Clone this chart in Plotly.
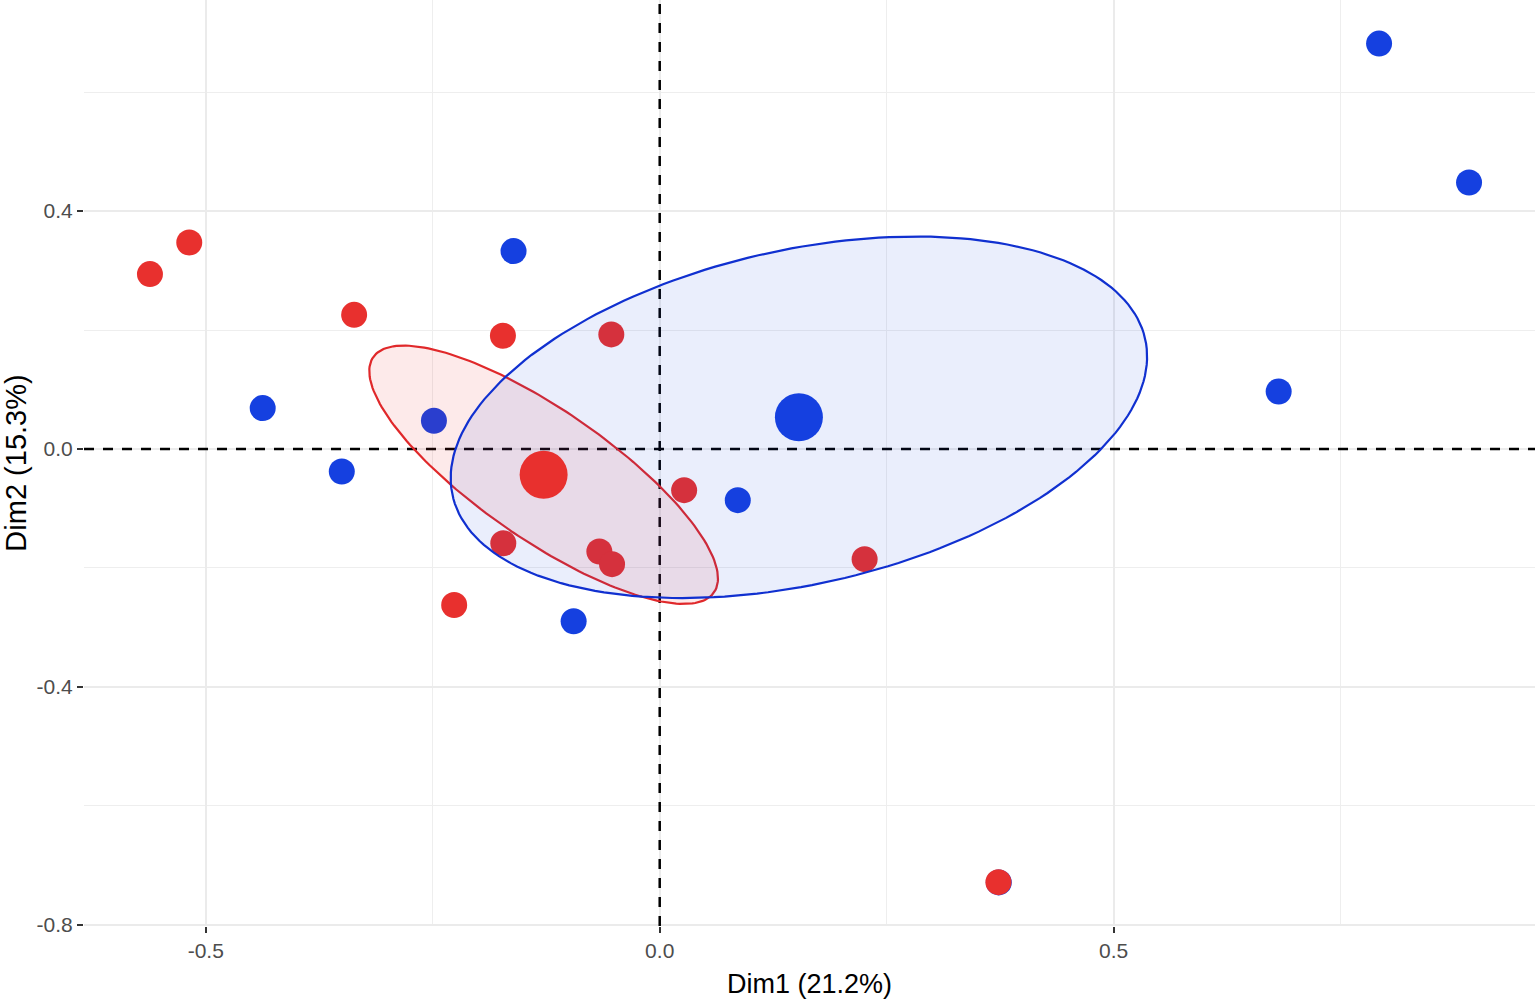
import numpy as np
import plotly.graph_objects as go

# individuos (Dim1, Dim2), por grupo
red_x = [-0.5615, -0.5182, -0.3366, -0.1727, -0.0533, 0.0269, -0.1723, -0.0665, -0.0525, 0.2257, -0.2264, 0.3731]
red_y = [0.2941, 0.3472, 0.2255, 0.1903, 0.1926, -0.0693, -0.1586, -0.1725, -0.1938, -0.1854, -0.2625, -0.7286]
blue_x = [0.7924, 0.8915, 0.6818, -0.1610, -0.4373, -0.2487, -0.3502, 0.0860, -0.0948, 0.3735]
blue_y = [0.6817, 0.4482, 0.0965, 0.3327, 0.0687, 0.0474, -0.0380, -0.0861, -0.2898, -0.7290]

x_ticks = [-0.5, 0.0, 0.5]
x_labels = ["-0.5", "0.0", "0.5"]
y_ticks = [-0.8, -0.4, 0.0, 0.4]
y_labels = ["-0.8", "-0.4", "0.0", "0.4"]

x_title = "Dim1 (21.2%)"
y_title = "Dim2 (15.3%)"

RED = "#E8302E"
BLUE = "#1540E0"
FONT = "Liberation Sans, Arial, sans-serif"


def conf_ellipse(x, y, level=0.95, npoint=200):
    ## elipse de confianza alrededor del baricentro (cov / n)
    x = np.asarray(x)
    y = np.asarray(y)
    cov = np.cov(x, y) / len(x)
    sx, sy = np.sqrt(np.diag(cov))
    r = cov[0, 1] / (sx * sy)
    d = np.arccos(r)
    t = np.sqrt(-2 * np.log(1 - level))  # qchisq(level, 2)
    a = np.linspace(0, 2 * np.pi, npoint)
    ex = x.mean() + t * sx * np.cos(a + d / 2)
    ey = y.mean() + t * sy * np.cos(a - d / 2)
    return ex, ey


def expand(vals, mult=0.05):
    lo, hi = min(vals), max(vals)
    pad = (hi - lo) * mult
    return [lo - pad, hi + pad]


x_range = expand(red_x + blue_x)
y_range = expand(red_y + blue_y, 0.052)

fig = go.Figure()

## lineas de referencia en 0
dash_line = dict(color="black", width=2.5, dash="10px,9px")
fig.add_trace(go.Scatter(x=x_range, y=[0, 0], mode="lines", line=dash_line, hoverinfo="skip"))
fig.add_trace(go.Scatter(x=[0, 0], y=y_range, mode="lines", line=dash_line, hoverinfo="skip"))

## puntos (azul primero, el rojo queda encima)
fig.add_trace(go.Scatter(x=blue_x, y=blue_y, mode="markers",
                         marker=dict(color=BLUE, size=26, line=dict(width=0))))
fig.add_trace(go.Scatter(x=red_x, y=red_y, mode="markers",
                         marker=dict(color=RED, size=26, line=dict(width=0))))

## elipses
for gx, gy, col, fill in [(red_x, red_y, "#E0282A", "rgba(232,48,46,0.1)"),
                          (blue_x, blue_y, "#1030D0", "rgba(21,64,224,0.09)")]:
    ex, ey = conf_ellipse(gx, gy)
    fig.add_trace(go.Scatter(x=ex, y=ey, mode="lines", fill="toself",
                             fillcolor=fill, line=dict(color=col, width=2.2)))

## centroides
fig.add_trace(go.Scatter(x=[np.mean(red_x)], y=[np.mean(red_y)], mode="markers",
                         marker=dict(color=RED, size=48, line=dict(width=0))))
fig.add_trace(go.Scatter(x=[np.mean(blue_x)], y=[np.mean(blue_y)], mode="markers",
                         marker=dict(color=BLUE, size=48, line=dict(width=0))))

axis_common = dict(
    showgrid=True, gridcolor="#EBEBEB", gridwidth=2,
    zeroline=False, showline=False,
    ticks="outside", ticklen=6, tickwidth=2, tickcolor="#333333",
    tickfont=dict(family=FONT, size=21, color="#4D4D4D"),
)

fig.update_xaxes(range=x_range, tickvals=x_ticks, ticktext=x_labels,
                 minor=dict(dtick=0.25, tick0=0, showgrid=True, gridcolor="#EEEEEE", gridwidth=1.3),
                 title=dict(text=x_title, font=dict(family=FONT, size=27, color="black"), standoff=12),
                 **axis_common)
fig.update_yaxes(range=y_range, tickvals=y_ticks, ticktext=y_labels,
                 minor=dict(dtick=0.2, tick0=0, showgrid=True, gridcolor="#EEEEEE", gridwidth=1.3),
                 title=dict(text=y_title, font=dict(family=FONT, size=29, color="black"), standoff=8),
                 **axis_common)

fig.update_layout(
    width=1535, height=1000,
    margin=dict(l=84, r=0, t=0, b=74),
    plot_bgcolor="white", paper_bgcolor="white",
    showlegend=False,
)

fig.write_html("out.html", config={"displayModeBar": False},
               post_script="document.body.style.margin = '0px';")
